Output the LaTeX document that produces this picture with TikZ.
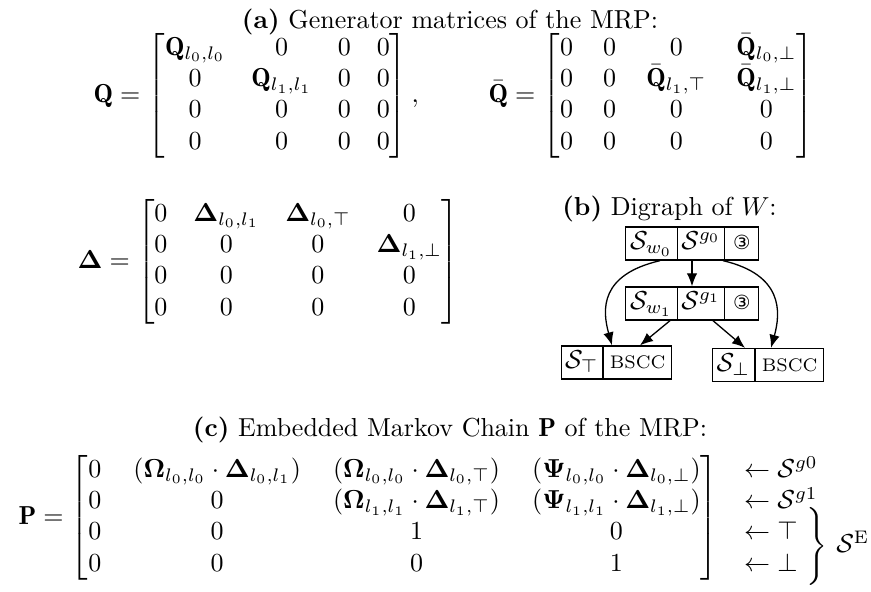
\documentclass[tikz,border=0pt]{standalone}
\usepackage{amsmath}
\usepackage{bm}
\usepackage{fontspec}
\newfontfamily\circfont{DejaVu Sans}
\usetikzlibrary{arrows.meta,calc,shapes.multipart}

% one cell of a state box: fixed width, fixed height
\newcommand{\cellA}[2]{\makebox[#1]{\rule[-4pt]{0pt}{12.7pt}#2}}
\newcommand{\three}{{\circfont\fontsize{7.5pt}{9pt}\selectfont ③}}
\newcommand{\bscc}{{\scriptsize BSCC}}

\begin{document}
\begin{tikzpicture}[x=0.38462pt,y=-0.38462pt,
  eq/.style={inner sep=0pt,anchor=west},
  title/.style={inner sep=0pt,anchor=base},
  statebox/.style={draw,line width=0.5pt,rectangle split,rectangle split horizontal,
    rectangle split parts=#1,inner xsep=0pt,inner ysep=0pt},
  arr/.style={-{Latex[length=5pt,width=4pt]},line width=0.5pt}]
\useasboundingbox (0,0) rectangle (871,591);

% (a) generator matrices
\node[title] (ta) at (450,28) {\textbf{(a)} Generator matrices of the MRP:};
\node[eq] (Q) at (93,96) {$\mathbf{Q} = \begin{bmatrix}
  \mathbf{Q}_{l_0,l_0} & 0 & 0 & 0\\
  0 & \mathbf{Q}_{l_1,l_1} & 0 & 0\\
  0 & 0 & 0 & 0\\
  0 & 0 & 0 & 0
\end{bmatrix},$};
\node[eq] (Qbar) at (488,96) {\setlength{\arraycolsep}{5.8pt}$\bar{\mathbf{Q}} = \begin{bmatrix}
  0 & 0 & 0 & \bar{\mathbf{Q}}_{l_0,\bot}\\
  0 & 0 & \bar{\mathbf{Q}}_{l_1,\top} & \bar{\mathbf{Q}}_{l_1,\bot}\\
  0 & 0 & 0 & 0\\
  0 & 0 & 0 & 0
\end{bmatrix}$};
\node[eq] (D) at (77,262) {$\bm{\Delta} = \begin{bmatrix}
  0 & \bm{\Delta}_{l_0,l_1} & \bm{\Delta}_{l_0,\top} & 0\\
  0 & 0 & 0 & \bm{\Delta}_{l_1,\bot}\\
  0 & 0 & 0 & 0\\
  0 & 0 & 0 & 0
\end{bmatrix}$};

% (b) digraph of W
\node[title] (tb) at (669.5,215) {\textbf{(b)} Digraph of $W$:};
\node[statebox=3] (w0) at (692,243.5)
  {\cellA{19.6pt}{$\mathcal{S}_{w_0}$}\nodepart{two}\cellA{17.7pt}{$\mathcal{S}^{g_0}$}\nodepart{three}\cellA{12.7pt}{\three}};
\node[statebox=3] (w1) at (692,303.5)
  {\cellA{19.6pt}{$\mathcal{S}_{w_1}$}\nodepart{two}\cellA{17.7pt}{$\mathcal{S}^{g_1}$}\nodepart{three}\cellA{12.7pt}{\three}};
\node[statebox=2] (top) at (616.5,362.5)
  {\cellA{15.8pt}{$\mathcal{S}_{\top}$}\nodepart{two}\cellA{26.2pt}{\bscc}};
\node[statebox=2] (bot) at (768,365)
  {\cellA{16.2pt}{$\mathcal{S}_{\bot}$}\nodepart{two}\cellA{26.2pt}{\bscc}};

\draw[arr] (w0.south) -- (w1.north);
\draw[arr] ($(w0.south)+(-32,0)$) .. controls +(-60,14) and +(-10,-36) .. ($(top.north)+(-4.5,0)$);
\draw[arr] ($(w0.south)+(31,0)$) .. controls +(60,14) and +(10,-36) .. ($(bot.north)+(3,0)$);
\draw[arr] ($(w1.south)+(-22,0)$) -- ($(top.north)+(23.5,0)$);
\draw[arr] ($(w1.south)+(21,0)$) -- ($(bot.north)+(-23,0)$);

% (c) embedded Markov chain
\node[title] (tc) at (450,436) {\textbf{(c)} Embedded Markov Chain $\mathbf{P}$ of the MRP:};
\node[eq] (P) at (18,518) {$\mathbf{P} = {\setlength{\arraycolsep}{6.2pt}\begin{bmatrix}
  0 & (\bm{\Omega}_{l_0,l_0}\cdot\bm{\Delta}_{l_0,l_1}) & (\bm{\Omega}_{l_0,l_0}\cdot\bm{\Delta}_{l_0,\top}) & (\bm{\Psi}_{l_0,l_0}\cdot\bm{\Delta}_{l_0,\bot})\\
  0 & 0 & (\bm{\Omega}_{l_1,l_1}\cdot\bm{\Delta}_{l_1,\top}) & (\bm{\Psi}_{l_1,l_1}\cdot\bm{\Delta}_{l_1,\bot})\\
  0 & 0 & 1 & 0\\
  0 & 0 & 0 & 1
\end{bmatrix}}\quad
\begin{array}{@{}l@{}}
  \leftarrow \mathcal{S}^{g0}\\
  \leftarrow \mathcal{S}^{g1}\\
  \leftarrow \top\\
  \leftarrow \bot
\end{array}$};
\node[eq] (SE) at (803,546) {$\left.\vcenter{\hbox{\rule{0pt}{29pt}}}\right\}\,\mathcal{S}^{\mathrm{E}}$};
\end{tikzpicture}
\end{document}
